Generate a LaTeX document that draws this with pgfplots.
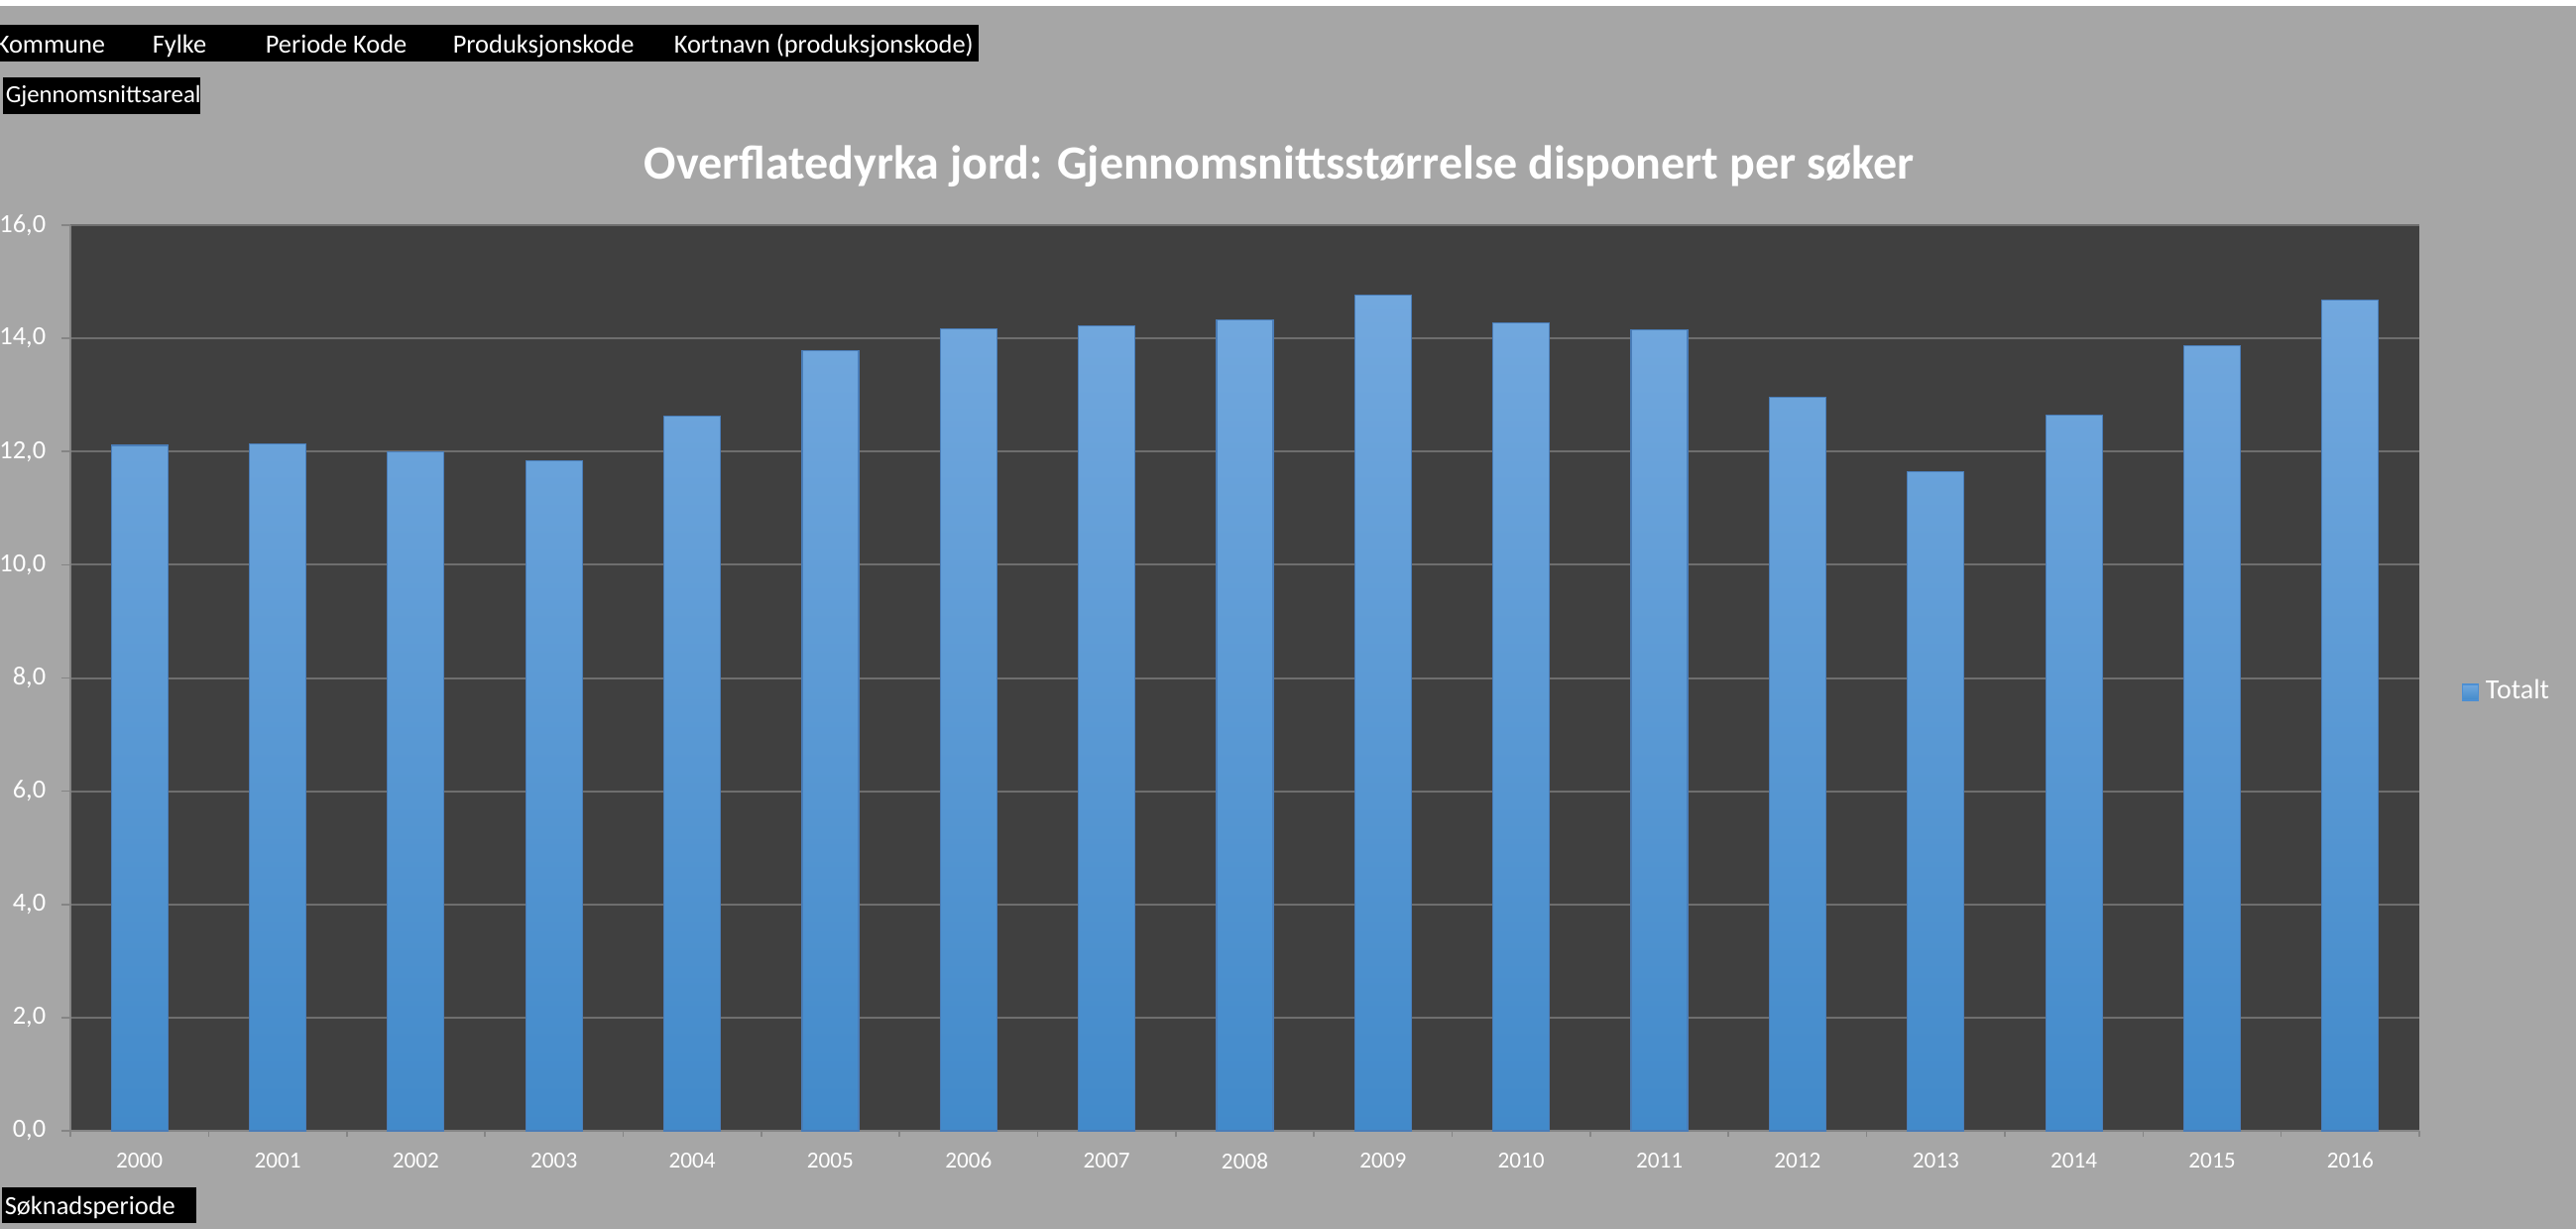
\documentclass[border=0pt]{standalone}
\usepackage{fontspec}
\setmainfont{Carlito}
\usepackage{pgfplots}
\pgfplotsset{compat=1.18}
\definecolor{bg}{HTML}{A6A6A6}
\definecolor{plotbg}{HTML}{404040}
\definecolor{gridc}{HTML}{6E6E6E}
\definecolor{axisc}{HTML}{858585}
\definecolor{barTop}{HTML}{72A8DE}
\definecolor{barBot}{HTML}{428ACA}
\definecolor{barEdge}{HTML}{4A7DB8}
\definecolor{legc}{HTML}{4C8FD3}
\begin{document}
\begin{tikzpicture}
\begin{scope}[x=0.25pt,y=-0.25pt]
\fill[bg] (0,0) rectangle (2598,1239);
\fill[white] (0,0) rectangle (2598,7);
\draw[gray!70, line width=0.3pt] (0,7) -- (2598,7);
\fill[black] (0,25) rectangle (987,62);
\begin{scope}[every node/.style={anchor=base west, inner sep=0pt, text=white, font=\fontsize{6.6}{8}\selectfont}]
\node at (-5,54) {Kommune};
\node at (153,54) {Fylke};
\node at (267,54) {Periode Kode};
\node at (456,54) {Produksjonskode};
\node at (679,54) {Kortnavn (produksjonskode)};
\end{scope}
\fill[black] (3,78) rectangle (202,115);
\node[anchor=base west, inner sep=0pt, text=white, font=\fontsize{6.2}{7}\selectfont] at (5,104) {Gjennomsnittsareal};
\fill[black] (2,1197) rectangle (198,1233);
\node[anchor=base west, inner sep=0pt, text=white, font=\fontsize{6.6}{8}\selectfont] at (4,1224) {Søknadsperiode};
\node[anchor=base, inner sep=0pt, text=white, font=\fontsize{12}{14}\selectfont\bfseries] at (1290,181) {Overflatedyrka jord: Gjennomsnittsstørrelse disponert per søker};
\end{scope}
\begin{axis}[
  at={(17.75pt,-285pt)}, anchor=south west,
  scale only axis, width=592.25pt, height=228.25pt,
  xmin=-0.5, xmax=16.5, ymin=0, ymax=16,
  axis background/.style={fill=plotbg},
  axis x line*=bottom, axis y line*=left,
  axis line style={-, draw=axisc, line width=0.4pt},
  ytick={0,2,...,16},
  yticklabel={\pgfmathprintnumber[fixed,fixed zerofill,precision=1,use comma,assume math mode=true]{\tick}},
  yticklabel style={anchor=east, inner sep=0pt, xshift=-3.75pt, text=white, font=\fontsize{6.6}{8}\selectfont},
  xtick={0,...,16},
  xticklabels={2000,2001,2002,2003,2004,2005,2006,2007,2008,2009,2010,2011,2012,2013,2014,2015,2016},
  xticklabel style={anchor=north, inner sep=0pt, yshift=-3.1pt, text=white, font=\fontsize{5.8}{7}\selectfont},
  minor xtick={-0.5,0.5,...,16.5},
  tick align=outside,
  major tick length=2.25pt, minor tick length=1.5pt,
  tick style={draw=axisc, line width=0.4pt},
  major x tick style={draw=none},
  ymajorgrids, xmajorgrids=false, xminorgrids=false,
  grid style={draw=gridc, line width=0.5pt},
  legend style={at={(1.0177,0.4841)}, anchor=west, draw=none, fill=none, inner sep=0pt, text=white, font=\fontsize{7}{8}\selectfont, nodes={inner sep=0pt}, column sep=1.75pt},
  legend image code/.code={\fill[legc] (0pt,-2pt) rectangle (4pt,2pt);},
]
\addplot[ybar, bar width=14.25pt, bar shift=0pt, top color=barTop, bottom color=barBot, draw=barEdge, line width=0.3pt] coordinates {
(0,12.11) (1,12.13) (2,11.99) (3,11.84) (4,12.62) (5,13.78) (6,14.17) (7,14.22) (8,14.32)
(9,14.76) (10,14.27) (11,14.15) (12,12.96) (13,11.64) (14,12.64) (15,13.87) (16,14.67)};
\addlegendentry{Totalt}
\end{axis}
\pgfresetboundingbox
\path[use as bounding box] (0,0) rectangle (649.5pt,-309.75pt);
\end{tikzpicture}
\end{document}
